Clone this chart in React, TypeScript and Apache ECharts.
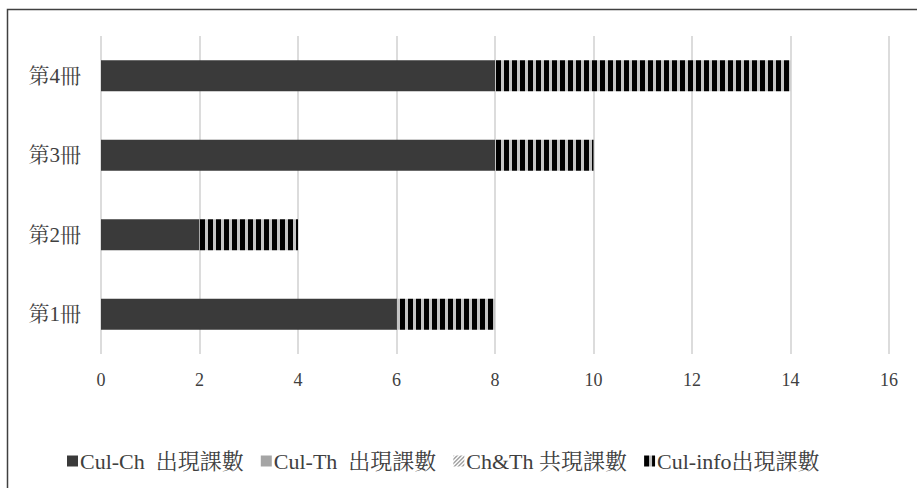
import React, { useEffect, useRef } from "react";
import * as echarts from "echarts";

const categories = ["第1冊", "第2冊", "第3冊", "第4冊"];
const seriesNames = ["Cul-Ch  出現課數", "Cul-Th  出現課數", "Ch&Th 共現課數", "Cul-info出現課數"];
const culCh = [6, 2, 8, 8];
const culTh = [0, 0, 0, 0];
const chTh = [0, 0, 0, 0];
const culInfo = [2, 2, 2, 6];
const xTicks = [0, 2, 4, 6, 8, 10, 12, 14, 16];

const FONT = "'Liberation Serif', 'Noto Serif CJK TC', 'Noto Sans CJK TC', serif";

function stripePattern() {
  const c = document.createElement("canvas");
  c.width = 8;
  c.height = 8;
  const ctx = c.getContext("2d")!;
  ctx.fillStyle = "#c4c4c4";
  ctx.fillRect(0, 0, 8, 8);
  ctx.fillStyle = "#000000";
  ctx.fillRect(0, 0, 5, 8);
  return { image: c, repeat: "repeat" as const };
}

function diagPattern() {
  const c = document.createElement("canvas");
  c.width = 4;
  c.height = 4;
  const ctx = c.getContext("2d")!;
  ctx.fillStyle = "#ffffff";
  ctx.fillRect(0, 0, 4, 4);
  ctx.fillStyle = "#404040";
  ctx.fillRect(3, 0, 1, 1);
  ctx.fillRect(2, 1, 1, 1);
  ctx.fillRect(1, 2, 1, 1);
  ctx.fillRect(0, 3, 1, 1);
  return { image: c, repeat: "repeat" as const };
}

export default function App() {
  const ref = useRef<HTMLDivElement>(null);
  useEffect(() => {
    document.body.style.margin = "0";
    const chart = echarts.init(ref.current!, undefined, { renderer: "svg" });
    const values = [culCh, culTh, chTh, culInfo];
    const colors: any[] = ["#3a3a3a", "#a5a5a5", diagPattern(), stripePattern()];
    chart.setOption({
      animation: false,
      backgroundColor: "#ffffff",
      textStyle: { fontFamily: FONT },
      grid: { left: 101, right: 28, top: 36, bottom: 134, containLabel: false },
      xAxis: {
        type: "value",
        min: 0,
        max: 16,
        interval: 2,
        axisLine: { show: false },
        axisTick: { show: false },
        splitLine: { show: true, lineStyle: { color: "#d0d0d0", width: 1.5 } },
        axisLabel: {
          color: "#404040",
          fontSize: 18,
          fontFamily: FONT,
          margin: 17,
          formatter: (v: number) => (xTicks.includes(v) ? String(v) : ""),
        },
      },
      yAxis: {
        type: "category",
        data: categories,
        axisLine: { show: false },
        axisTick: { show: false },
        axisLabel: { color: "#404040", fontSize: 21, fontFamily: FONT, margin: 20 },
      },
      legend: {
        left: 62,
        top: 445,
        icon: "rect",
        itemWidth: 11,
        itemHeight: 11,
        itemGap: 17,
        textStyle: { color: "#404040", fontSize: 22, fontFamily: FONT, padding: [0, 0, 0, -3] },
        data: seriesNames,
      },
      graphic: [
        {
          type: "rect",
          shape: { x: 7.5, y: 9.5, width: 1200, height: 1200 },
          style: { fill: "none", stroke: "#404040", lineWidth: 1.5 },
          silent: true,
        },
      ],
      series: seriesNames.map((name, i) => ({
        name,
        type: "bar",
        stack: "total",
        barWidth: "39%",
        data: values[i],
        itemStyle: { color: colors[i] },
      })),
    });
    return () => chart.dispose();
  }, []);
  return <div ref={ref} style={{ position: "fixed", left: 0, top: 0, width: 917, height: 488 }} />;
}
